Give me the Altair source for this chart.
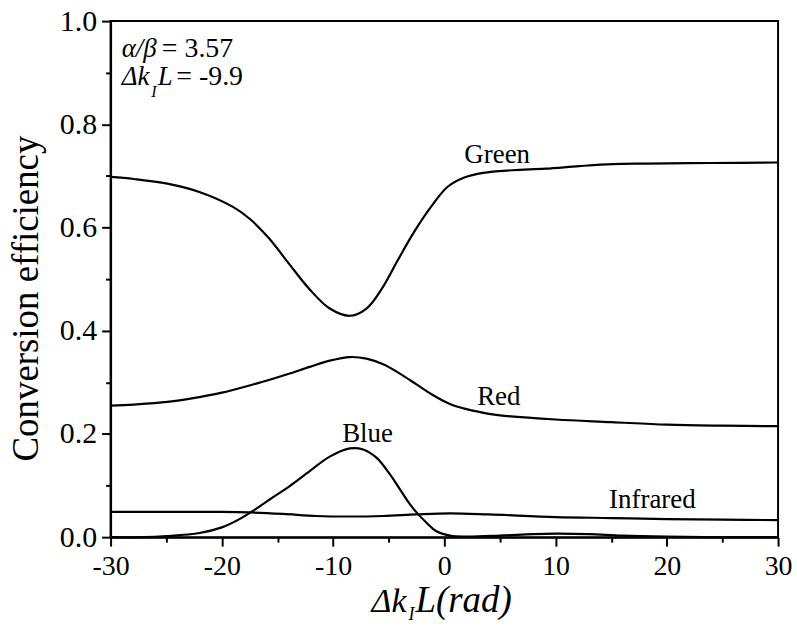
import altair as alt
import pandas as pd

# ---- data ----
green_x = [-30, -27.9, -24.9, -21.9, -19, -17.5, -15.8, -13.9, -12.1, -10.3, -8.5, -7, -5.6, -4.2, -2.7, -1.2, 0.3, 1.8, 3.5, 6.1, 9.1, 12.1, 15.1, 18.1, 24, 30]
green_y = [0.698, 0.694, 0.685, 0.668, 0.640, 0.617, 0.580, 0.528, 0.480, 0.443, 0.429, 0.443, 0.482, 0.536, 0.592, 0.640, 0.679, 0.697, 0.706, 0.711, 0.714, 0.719, 0.723, 0.724, 0.725, 0.726]

red_x = [-30, -27.9, -24.9, -21.9, -20, -17.5, -15.7, -13.9, -12.1, -10.3, -8.5, -7, -5.5, -4, -2.5, -1, 0.5, 2, 4, 5, 10, 15, 20, 25, 30]
red_y = [0.255, 0.257, 0.262, 0.272, 0.280, 0.294, 0.305, 0.317, 0.330, 0.342, 0.349, 0.346, 0.335, 0.317, 0.296, 0.275, 0.258, 0.248, 0.239, 0.236, 0.228, 0.223, 0.218, 0.216, 0.215]

blue_x = [-30, -27, -25, -22, -20, -18.5, -17, -15.7, -13.9, -12.1, -10.3, -8.5, -7.3, -6.1, -4.9, -4, -3.1, -2.5, -1.6, -0.75, 0.5, 2, 5, 8, 10, 13, 16, 20, 25, 30]
blue_y = [0.0, 0.0, 0.002, 0.008, 0.019, 0.034, 0.054, 0.073, 0.099, 0.128, 0.156, 0.172, 0.170, 0.154, 0.122, 0.093, 0.064, 0.048, 0.028, 0.012, 0.003, 0.001, 0.003, 0.006, 0.007, 0.006, 0.003, 0.001, 0.0, 0.0]

ir_x = [-30, -25, -20, -17.5, -14.5, -11.5, -8.5, -5.5, -2.5, 0.5, 4, 10, 15, 20, 25, 30]
ir_y = [0.049, 0.049, 0.049, 0.048, 0.045, 0.041, 0.040, 0.041, 0.044, 0.046, 0.044, 0.039, 0.037, 0.035, 0.034, 0.033]

series_names = ["Green", "Red", "Blue", "Infrared"]
label_x = [4.75, 4.9, -6.9, 18.7]
label_y = [0.725, 0.257, 0.184, 0.056]

x_ticks = [-30, -25, -20, -15, -10, -5, 0, 5, 10, 15, 20, 25, 30]
y_ticks = [0.0, 0.1, 0.2, 0.3, 0.4, 0.5, 0.6, 0.7, 0.8, 0.9, 1.0]

FONT = "Liberation Serif"

rows = []
for name, xs, ys in [("Green", green_x, green_y), ("Red", red_x, red_y),
                     ("Blue", blue_x, blue_y), ("Infrared", ir_x, ir_y)]:
    for i, (a, b) in enumerate(zip(xs, ys)):
        rows.append({"series": name, "x": a, "y": b, "order": i})
df = pd.DataFrame(rows)
labels_df = pd.DataFrame({"text": series_names, "x": label_x, "y": label_y})

xscale = alt.Scale(domain=[-30, 30], nice=False, zero=False)
yscale = alt.Scale(domain=[0, 1.0], nice=False)

x_axis = alt.Axis(
    values=x_ticks,
    labelExpr="datum.value % 10 === 0 ? toString(datum.value) : ''",
    tickSize={"condition": {"test": "datum.value % 10 === 0", "value": 9}, "value": 5},
    labelFont=FONT, labelFontSize=28, labelColor="black", labelPadding=6,
    labelFlush=False, labelOverlap=False,
    domainColor="black", domainWidth=2, tickColor="black", tickWidth=2,
    grid=False, title=None,
)
y_axis = alt.Axis(
    values=y_ticks,
    labelExpr="round(datum.value*10) % 2 === 0 ? format(datum.value, '.1f') : ''",
    tickSize={"condition": {"test": "round(datum.value*10) % 2 === 0", "value": 9}, "value": 5},
    labelFont=FONT, labelFontSize=30, labelColor="black", labelPadding=5,
    labelFlush=False, labelOverlap=False,
    domainColor="black", domainWidth=2, tickColor="black", tickWidth=2,
    grid=False, title="Conversion efficiency", titleFont=FONT, titleFontSize=37,
    titleFontWeight="normal", titleColor="black", titleX=-73, titleY=278,
    titleBaseline="alphabetic", titleAlign="center", titleAngle=270,
)

lines = alt.Chart(df).mark_line(interpolate="catmull-rom", color="black", strokeWidth=2.2).encode(
    x=alt.X("x:Q", scale=xscale, axis=x_axis),
    y=alt.Y("y:Q", scale=yscale, axis=y_axis),
    detail="series:N",
    order="order:Q",
)

def txt(data, size, italic=False, align="left"):
    kw = dict(font=FONT, fontSize=size, align=align, baseline="alphabetic")
    if italic:
        kw["fontStyle"] = "italic"
    return alt.Chart(data).mark_text(**kw)

curve_labels = txt(labels_df, 27, align="center").encode(
    x=alt.X("x:Q", scale=xscale), y=alt.Y("y:Q", scale=yscale), text="text:N")

# annotation pieces (rich text: italic symbols, subscript, roman values)
ann_italic = pd.DataFrame({"text": ["α/β", "Δk", "L"], "x": [-29.0, -29.0, -25.75], "y": [0.9295, 0.8754, 0.8754]})
ann_sub = pd.DataFrame({"text": ["I"], "x": [-26.35], "y": [0.853]})
ann_roman = pd.DataFrame({"text": ["= 3.57", "= -9.9"], "x": [-25.4, -24.1], "y": [0.9295, 0.8754]})

ann1 = txt(ann_italic, 27, italic=True).encode(
    x=alt.X("x:Q", scale=xscale), y=alt.Y("y:Q", scale=yscale), text="text:N")
ann2 = txt(ann_sub, 16, italic=True).encode(
    x=alt.X("x:Q", scale=xscale), y=alt.Y("y:Q", scale=yscale), text="text:N")
ann3 = txt(ann_roman, 28).encode(
    x=alt.X("x:Q", scale=xscale), y=alt.Y("y:Q", scale=yscale), text="text:N")

# x-axis title "Δk_I L(rad)" built from pieces below the axis
xt_main = txt(pd.DataFrame({"t": ["Δk"]}), 34, italic=True).encode(
    x=alt.value(262), y=alt.value(593), text="t:N")
xt_sub = txt(pd.DataFrame({"t": ["I"]}), 18, italic=True).encode(
    x=alt.value(299), y=alt.value(601), text="t:N")
xt_rest = txt(pd.DataFrame({"t": ["L(rad)"]}), 37, italic=True).encode(
    x=alt.value(306), y=alt.value(593), text="t:N")

chart = alt.layer(lines, curve_labels, ann1, ann2, ann3, xt_main, xt_sub, xt_rest).properties(
    width=670, height=518,
    padding={"left": 7, "top": 5, "right": 5, "bottom": 5},
    view=alt.ViewBackground(stroke="black", strokeWidth=2),
)

chart.save("out.html", embed_options={"renderer": "svg", "actions": False})
